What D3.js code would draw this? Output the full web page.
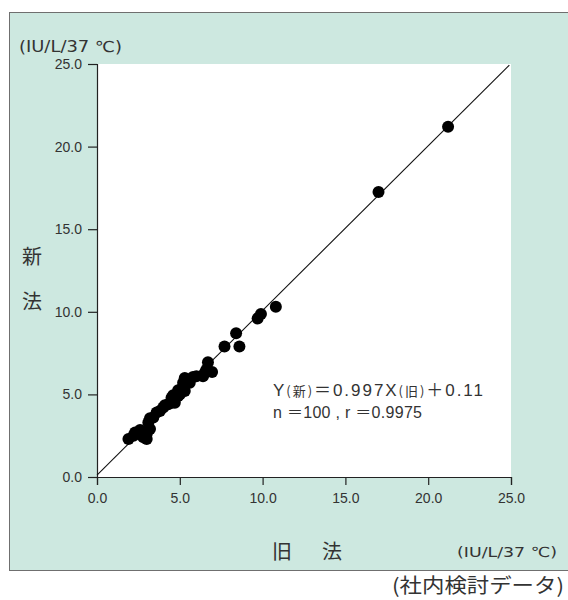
<!DOCTYPE html>
<html>
<head>
<meta charset="utf-8">
<script src="https://cdn.jsdelivr.net/npm/d3@7"></script>
<style>
  html, body { margin: 0; padding: 0; background: #fff; }
  svg { display: block; }
</style>
</head>
<body>
<svg id="chart" width="568" height="600"></svg>
<script>
// Paired measurements: old method (X) vs new method (Y), IU/L at 37 ℃
const oldMethod = [1.9, 2.2, 2.3, 2.6, 2.6, 2.8, 3.0, 3.0, 3.2, 3.1, 3.2, 3.4, 3.6, 3.8, 4.0, 4.1, 4.3, 4.5, 4.7, 4.5, 4.6, 4.9, 5.0, 4.9, 5.1, 5.3, 5.2, 5.2, 5.6, 5.3, 5.5, 5.8, 6.0, 6.4, 6.5, 6.6, 6.95, 6.7, 7.7, 8.6, 8.4, 9.7, 9.9, 10.8, 17.0, 21.2];
const newMethod = [2.3, 2.5, 2.7, 2.6, 2.85, 2.4, 2.3, 2.6, 2.9, 3.3, 3.55, 3.6, 3.9, 4.0, 4.2, 4.35, 4.4, 4.5, 4.5, 4.8, 4.95, 4.9, 5.0, 5.25, 5.25, 5.2, 5.5, 5.7, 5.7, 6.0, 5.9, 6.05, 6.1, 6.1, 6.3, 6.5, 6.35, 6.95, 7.9, 7.9, 8.7, 9.6, 9.87, 10.3, 17.25, 21.2];
const tickValues = [0, 5, 10, 15, 20, 25];
const slope = 0.997;
const intercept = 0.11;
const sampleSize = 100;
const correlation = 0.9975;

const svg = d3.select("#chart");
const FONT = "'Liberation Sans', 'Noto Sans CJK JP', sans-serif";
const WIDE = "'DejaVu Sans', 'Noto Sans CJK JP', sans-serif";
const CJK = "'Noto Sans CJK JP', sans-serif";
const TEXT = "#333";

// Tinted panel behind the plot
svg.append("rect")
  .attr("x", 9.5).attr("y", 12.5)
  .attr("width", 570).attr("height", 558)
  .attr("fill", "#cde8e0")
  .attr("stroke", "#6f6f6f").attr("stroke-width", 1);

const x = d3.scaleLinear().domain([0, 25]).range([97, 511]);
const y = d3.scaleLinear().domain([0, 25]).range([477, 64]);

// White plotting area
svg.append("rect")
  .attr("x", x(0)).attr("y", y(25))
  .attr("width", x(25) - x(0)).attr("height", y(0) - y(25))
  .attr("fill", "#fff");

// Axes
const fmt = d3.format(".1f");
const yAxis = svg.append("g")
  .attr("transform", `translate(${x(0)},0)`)
  .call(d3.axisLeft(y).tickValues(tickValues).tickFormat(fmt).tickSize(9).tickPadding(6));
const xAxis = svg.append("g")
  .attr("transform", `translate(0,${y(0)})`)
  .call(d3.axisBottom(x).tickValues(tickValues).tickFormat(fmt).tickSize(8).tickPadding(8));

[yAxis, xAxis].forEach(g => {
  g.select(".domain").attr("stroke", "#222").attr("stroke-width", 1.2);
  g.selectAll(".tick line").attr("stroke", "#222").attr("stroke-width", 1.2);
  g.selectAll(".tick text")
    .attr("fill", TEXT)
    .style("font-family", FONT)
    .style("font-size", "14px");
});

// Regression line Y = 0.997X + 0.11
const xEnd = 24.9;
svg.append("line")
  .attr("x1", x(0)).attr("y1", y(intercept))
  .attr("x2", x(xEnd)).attr("y2", y(slope * xEnd + intercept))
  .attr("stroke", "#111").attr("stroke-width", 1.1);

// Data points
const pts = oldMethod.map((v, i) => [v, newMethod[i]]);
svg.append("g").selectAll("circle")
  .data(pts).join("circle")
  .attr("cx", d => x(d[0]))
  .attr("cy", d => y(d[1]))
  .attr("r", 6)
  .attr("fill", "#000");

// Regression summary
const eq = svg.append("text")
  .attr("x", 273).attr("y", 396)
  .attr("textLength", 210).attr("lengthAdjust", "spacing")
  .attr("fill", TEXT)
  .style("font-family", FONT)
  .style("font-size", "17px");
eq.append("tspan").text("Y");
eq.append("tspan").style("font-family", CJK).style("font-size", "13px").text("(新)");
eq.append("tspan").style("font-family", CJK).text("＝");
eq.append("tspan").text(`${slope}X`);
eq.append("tspan").style("font-family", CJK).style("font-size", "13px").text("(旧)");
eq.append("tspan").style("font-family", CJK).text("＋");
eq.append("tspan").text(`${intercept}`);

const stat = svg.append("text")
  .attr("x", 273).attr("y", 418)
  .attr("textLength", 149).attr("lengthAdjust", "spacing")
  .attr("fill", TEXT)
  .style("font-family", FONT)
  .style("font-size", "16px");
stat.append("tspan").text("n ");
stat.append("tspan").style("font-family", CJK).text("＝");
stat.append("tspan").text(`${sampleSize} , r `);
stat.append("tspan").style("font-family", CJK).text("＝");
stat.append("tspan").text(`${correlation}`);

// Unit labels
svg.append("text")
  .attr("x", 19).attr("y", 52)
  .attr("textLength", 103).attr("lengthAdjust", "spacingAndGlyphs")
  .attr("fill", TEXT)
  .style("font-family", WIDE)
  .style("font-size", "15px")
  .text("(IU/L/37 ℃)");

svg.append("text")
  .attr("x", 457).attr("y", 557)
  .attr("textLength", 100).attr("lengthAdjust", "spacingAndGlyphs")
  .attr("fill", TEXT)
  .style("font-family", WIDE)
  .style("font-size", "14px")
  .text("(IU/L/37 ℃)");

// Axis titles
[["新", 255], ["法", 300]].forEach(([ch, cy]) => {
  svg.append("text")
    .attr("x", 32).attr("y", cy)
    .attr("text-anchor", "middle")
    .attr("dominant-baseline", "central")
    .attr("fill", TEXT)
    .style("font-family", CJK)
    .style("font-size", "20px")
    .text(ch);
});
[["旧", 282], ["法", 332]].forEach(([ch, cx]) => {
  svg.append("text")
    .attr("x", cx).attr("y", 550)
    .attr("text-anchor", "middle")
    .attr("dominant-baseline", "central")
    .attr("fill", TEXT)
    .style("font-family", CJK)
    .style("font-size", "20px")
    .text(ch);
});

// Source note
svg.append("text")
  .attr("x", 392).attr("y", 593)
  .attr("textLength", 172).attr("lengthAdjust", "spacingAndGlyphs")
  .attr("fill", TEXT)
  .style("font-family", CJK)
  .style("font-size", "20px")
  .text("(社内検討データ)");
</script>
</body>
</html>
